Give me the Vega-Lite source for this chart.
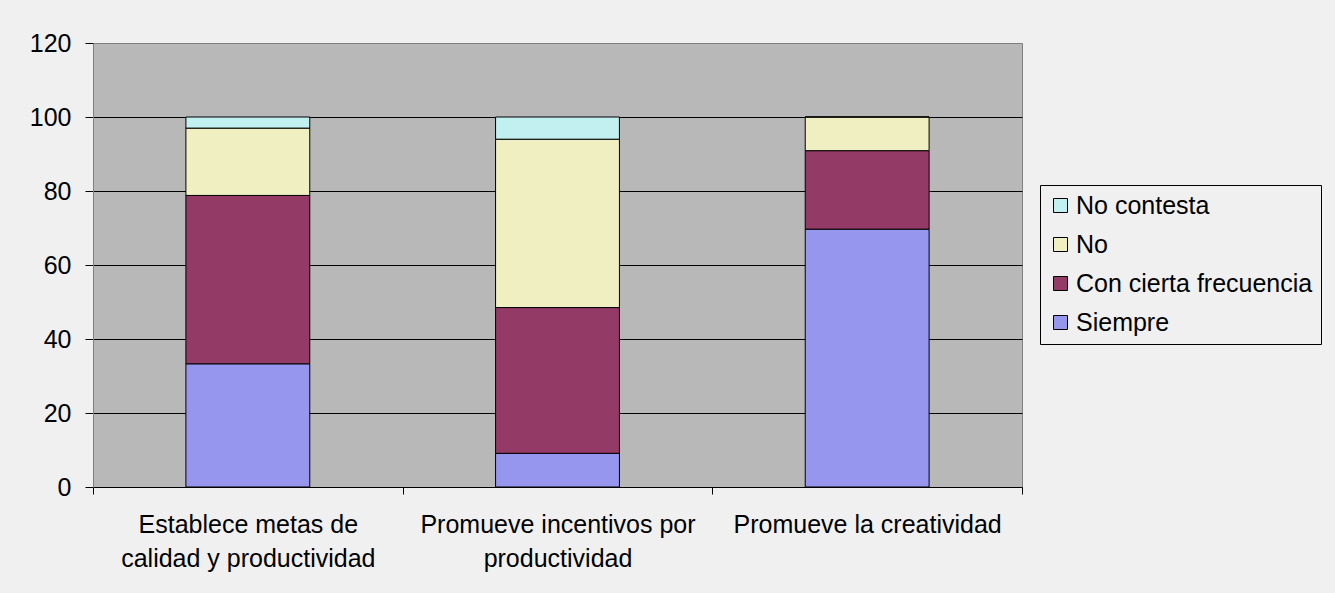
{
  "$schema": "https://vega.github.io/schema/vega-lite/v6.json",
  "autosize": {"type": "none"},
  "width": 929,
  "height": 444,
  "padding": {"left": 93, "top": 43, "right": 313, "bottom": 106},
  "background": "#F0F0F0",
  "config": {
    "font": "Liberation Sans",
    "view": {"fill": "#B8B8B8", "stroke": "#808080", "strokeWidth": 1}
  },
  "data": {
    "values": [
      {"pregunta": "Establece metas de calidad y productividad", "respuesta": "Siempre", "orden": 1, "porcentaje": 33.3},
      {"pregunta": "Establece metas de calidad y productividad", "respuesta": "Con cierta frecuencia", "orden": 2, "porcentaje": 45.5},
      {"pregunta": "Establece metas de calidad y productividad", "respuesta": "No", "orden": 3, "porcentaje": 18.2},
      {"pregunta": "Establece metas de calidad y productividad", "respuesta": "No contesta", "orden": 4, "porcentaje": 3.0},
      {"pregunta": "Promueve incentivos por productividad", "respuesta": "Siempre", "orden": 1, "porcentaje": 9.1},
      {"pregunta": "Promueve incentivos por productividad", "respuesta": "Con cierta frecuencia", "orden": 2, "porcentaje": 39.4},
      {"pregunta": "Promueve incentivos por productividad", "respuesta": "No", "orden": 3, "porcentaje": 45.5},
      {"pregunta": "Promueve incentivos por productividad", "respuesta": "No contesta", "orden": 4, "porcentaje": 6.0},
      {"pregunta": "Promueve la creatividad", "respuesta": "Siempre", "orden": 1, "porcentaje": 69.7},
      {"pregunta": "Promueve la creatividad", "respuesta": "Con cierta frecuencia", "orden": 2, "porcentaje": 21.2},
      {"pregunta": "Promueve la creatividad", "respuesta": "No", "orden": 3, "porcentaje": 9.1},
      {"pregunta": "Promueve la creatividad", "respuesta": "No contesta", "orden": 4, "porcentaje": 0}
    ]
  },
  "mark": {"type": "bar", "stroke": "#000000", "strokeWidth": 1, "width": {"band": 0.4}},
  "encoding": {
    "x": {
      "field": "pregunta",
      "type": "nominal",
      "sort": null,
      "scale": {"paddingInner": 0, "paddingOuter": 0},
      "axis": {
        "title": null,
        "labelAngle": 0,
        "labelFontSize": 25,
        "labelColor": "#000000",
        "labelLineHeight": 34,
        "labelPadding": 18,
        "labelBaseline": "top",
        "labelLimit": 500,
        "labelExpr": "datum.value == 'Establece metas de calidad y productividad' ? ['Establece metas de', 'calidad y productividad'] : datum.value == 'Promueve incentivos por productividad' ? ['Promueve incentivos por', 'productividad'] : datum.value",
        "tickBand": "extent",
        "tickSize": 7,
        "tickColor": "#000000",
        "domainColor": "#000000",
        "grid": false
      }
    },
    "y": {
      "field": "porcentaje",
      "type": "quantitative",
      "stack": "zero",
      "scale": {"domain": [0, 120], "nice": false},
      "axis": {
        "title": null,
        "values": [0, 20, 40, 60, 80, 100, 120],
        "labelFontSize": 25,
        "labelColor": "#000000",
        "labelPadding": 14,
        "tickSize": 8,
        "tickColor": "#000000",
        "domainColor": "#808080",
        "grid": true,
        "gridColor": {"condition": {"test": "datum.value === 120 || datum.value === 0", "value": "#808080"}, "value": "#000000"},
        "gridOpacity": 1
      }
    },
    "color": {
      "field": "respuesta",
      "type": "nominal",
      "scale": {
        "domain": ["No contesta", "No", "Con cierta frecuencia", "Siempre"],
        "range": ["#C2EFEF", "#F0EFC2", "#943A66", "#9696EE"]
      },
      "legend": {
        "title": null,
        "orient": "none",
        "legendX": 947,
        "legendY": 142,
        "direction": "vertical",
        "symbolType": "square",
        "symbolSize": 196,
        "symbolStrokeColor": "#000000",
        "symbolStrokeWidth": 1,
        "symbolOpacity": 1,
        "labelFontSize": 25,
        "labelColor": "#000000",
        "labelOffset": 3,
        "rowPadding": 13,
        "padding": 8,
        "strokeColor": "#000000",
        "fillColor": "#F0F0F0",
        "labelLimit": 400
      }
    },
    "order": {"field": "orden", "type": "quantitative"}
  }
}
